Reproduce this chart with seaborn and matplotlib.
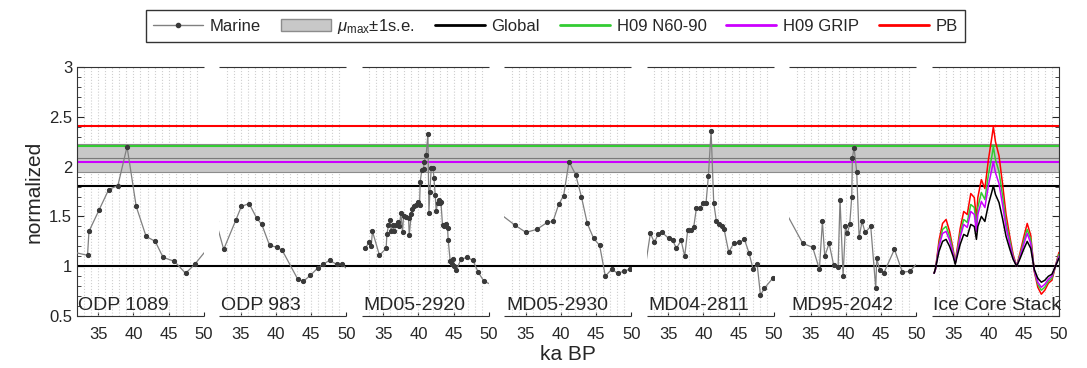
import pandas as pd
import matplotlib
matplotlib.use("Agg")
import matplotlib.pyplot as plt
from matplotlib.lines import Line2D
from matplotlib.patches import Patch, Rectangle
from matplotlib.ticker import MultipleLocator
import seaborn as sns

# panel names, left to right
panel_names = ["ODP 1089", "ODP 983", "MD05-2920", "MD05-2930",
               "MD04-2811", "MD95-2042", "Ice Core Stack"]

# marine records: age (ka BP) and normalized value
odp1089_age = [31.0, 33.5, 33.7, 35.1, 36.5, 37.8, 39.1, 40.4, 41.8, 43.1, 44.2, 45.8, 47.4, 48.7, 51.0]
odp1089_val = [1.15, 1.11, 1.35, 1.56, 1.77, 1.81, 2.20, 1.60, 1.30, 1.25, 1.09, 1.05, 0.93, 1.02, 1.22]

odp983_age = [31.5, 32.6, 34.3, 35.1, 36.2, 37.3, 38.0, 39.1, 40.2, 40.9, 43.1, 43.9, 44.9, 45.9,
              46.7, 47.6, 48.6, 49.4, 51.0]
odp983_val = [1.45, 1.17, 1.46, 1.60, 1.63, 1.48, 1.42, 1.21, 1.19, 1.16, 0.87, 0.85, 0.91, 0.98,
              1.02, 1.06, 1.02, 1.02, 0.91]

md052920_age = [32.45, 33.02, 33.30, 33.49, 34.48, 35.43, 35.53, 35.76, 36.00, 36.14, 36.33, 36.57,
                36.81, 37.09, 37.28, 37.52, 37.75, 37.89, 38.27, 38.60, 38.70, 38.98, 39.12, 39.40,
                39.69, 39.93, 40.16, 40.26, 40.49, 40.73, 40.82, 41.10, 41.35, 41.49, 41.63, 41.82,
                42.06, 42.20, 42.38, 42.52, 42.71, 42.90, 43.05, 43.19, 43.42, 43.66, 43.90, 44.13,
                44.23, 44.51, 44.70, 44.89, 45.08, 45.36, 46.03, 46.88, 47.73, 48.48, 49.29, 50.5]
md052920_val = [1.18, 1.24, 1.20, 1.35, 1.11, 1.18, 1.32, 1.41, 1.46, 1.35, 1.41, 1.35,
                1.41, 1.44, 1.40, 1.53, 1.34, 1.50, 1.49, 1.48, 1.31, 1.52, 1.57, 1.60,
                1.61, 1.65, 1.61, 1.85, 1.97, 1.98, 2.05, 2.12, 2.33, 1.53, 1.75, 1.99,
                1.99, 1.89, 1.72, 1.55, 1.64, 1.67, 1.64, 1.65, 1.41, 1.40, 1.42, 1.38,
                1.26, 1.05, 1.02, 1.07, 1.00, 0.96, 1.07, 1.09, 1.06, 0.94, 0.85, 0.81]

md052930_age = [31.5, 33.53, 35.05, 36.56, 38.07, 38.88, 39.68, 40.39, 41.15, 42.09, 42.90,
                43.74, 44.64, 45.49, 46.30, 47.19, 48.04, 48.90, 49.74]
md052930_val = [1.52, 1.41, 1.34, 1.37, 1.44, 1.45, 1.62, 1.71, 2.05, 1.92, 1.70,
                1.43, 1.28, 1.21, 0.90, 0.97, 0.93, 0.95, 0.97]

md042811_age = [31.3, 32.48, 33.05, 33.57, 34.14, 35.08, 35.65, 36.17, 36.84, 37.35, 37.77, 38.20,
                38.62, 39.00, 39.53, 39.90, 40.38, 40.71, 41.09, 41.46, 41.84, 42.27, 42.60, 42.94,
                43.59, 44.30, 45.11, 45.82, 46.48, 47.05, 47.62, 48.09, 48.65, 49.83]
md042811_val = [0.78, 1.33, 1.24, 1.32, 1.34, 1.28, 1.26, 1.18, 1.26, 1.10, 1.36, 1.36,
                1.39, 1.58, 1.58, 1.64, 1.64, 1.91, 2.36, 1.64, 1.45, 1.42, 1.40, 1.37,
                1.14, 1.23, 1.24, 1.27, 1.13, 0.97, 1.02, 0.71, 0.78, 0.88]

md952042_age = [31.5, 33.88, 35.29, 36.24, 36.67, 37.00, 37.62, 38.27, 38.89, 39.17, 39.60, 39.93,
                40.21, 40.54, 40.83, 40.92, 41.16, 41.53, 41.87, 42.29, 42.72, 43.52, 44.23, 44.37,
                44.80, 45.36, 46.88, 48.01, 49.05, 50.5]
md952042_val = [1.54, 1.23, 1.19, 0.97, 1.45, 1.10, 1.23, 1.01, 0.99, 1.67, 0.90, 1.40,
                1.33, 1.42, 1.70, 2.09, 2.19, 1.95, 1.29, 1.45, 1.34, 1.40, 0.78, 1.08,
                0.96, 0.93, 1.17, 0.94, 0.95, 1.06]

# ice core stack curves
stack_age = [32.3, 32.5, 33.0, 33.5, 34.0, 34.5, 35.0, 35.3, 35.5, 36.0, 36.5, 37.0, 37.5, 38.0,
             38.3, 38.5, 39.0, 39.5, 40.0, 40.5, 40.7, 41.0, 41.5, 42.0, 42.5, 43.0, 43.5, 44.0,
             44.5, 45.0, 45.5, 46.0, 46.5, 47.0, 47.5, 48.0, 48.5, 49.0, 49.5, 50.0]
stack_global = [0.93, 0.98, 1.15, 1.25, 1.27, 1.20, 1.10, 1.02, 1.08, 1.22, 1.32, 1.30, 1.42, 1.40,
                1.27, 1.40, 1.50, 1.45, 1.62, 1.75, 1.81, 1.72, 1.64, 1.48, 1.30, 1.18, 1.07, 1.00,
                1.08, 1.17, 1.25, 1.18, 0.97, 0.88, 0.84, 0.86, 0.90, 0.92, 1.00, 1.08]
stack_n6090 = [0.93, 0.97, 1.22, 1.37, 1.40, 1.30, 1.15, 1.03, 1.12, 1.33, 1.47, 1.44, 1.62, 1.59,
               1.40, 1.59, 1.74, 1.67, 1.92, 2.11, 2.20, 2.07, 1.95, 1.71, 1.44, 1.27, 1.10, 1.00,
               1.12, 1.25, 1.37, 1.27, 0.96, 0.82, 0.76, 0.79, 0.85, 0.88, 1.00, 1.12]
stack_grip = [0.93, 0.97, 1.20, 1.33, 1.35, 1.26, 1.13, 1.03, 1.10, 1.29, 1.42, 1.39, 1.55, 1.52,
              1.35, 1.52, 1.65, 1.59, 1.81, 1.98, 2.05, 1.94, 1.83, 1.62, 1.39, 1.23, 1.09, 1.00,
              1.10, 1.22, 1.33, 1.23, 0.96, 0.84, 0.79, 0.82, 0.87, 0.90, 1.00, 1.10]
stack_pb = [0.93, 0.97, 1.26, 1.43, 1.47, 1.35, 1.17, 1.03, 1.14, 1.38, 1.55, 1.52, 1.73, 1.69,
            1.47, 1.69, 1.87, 1.78, 2.07, 2.30, 2.40, 2.25, 2.11, 1.83, 1.52, 1.31, 1.12, 1.00,
            1.14, 1.29, 1.43, 1.31, 0.95, 0.79, 0.72, 0.76, 0.83, 0.86, 1.00, 1.14]

# reference levels
mu_max = 2.09
mu_se = 0.14
level_global = 1.81
level_n6090 = 2.205
level_grip = 2.045
level_pb = 2.405
level_base = 1.0

tick_ages = [35, 40, 45, 50]
y_ticks = [0.5, 1, 1.5, 2, 2.5, 3]
y_labels = ["0.5", "1", "1.5", "2", "2.5", "3"]

marine = [(odp1089_age, odp1089_val), (odp983_age, odp983_val), (md052920_age, md052920_val),
          (md052930_age, md052930_val), (md042811_age, md042811_val), (md952042_age, md952042_val)]

colors = {"Global": "black", "H09 N60-90": "#33cc33", "H09 GRIP": "#cc00ff", "PB": "red"}

sns.set_style("ticks")
plt.rcParams["font.family"] = ["Liberation Sans", "DejaVu Sans"]
plt.rcParams["mathtext.fontset"] = "custom"
plt.rcParams["mathtext.rm"] = "Liberation Sans"
plt.rcParams["mathtext.it"] = "Liberation Sans:italic"

age_lo, age_hi, step = 32.0, 50.0, 20.2

fig = plt.figure(figsize=(10.87, 3.68), dpi=100)
ax = fig.add_axes([0.0708, 0.141, 0.9034, 0.677])

# band and reference lines
ax.axhspan(mu_max - mu_se, mu_max + mu_se, facecolor="#c8c8c8", edgecolor="#8c8c8c", lw=0.8, zorder=1.5)
ax.axhline(mu_max, color="#7a7a7a", lw=0.8, zorder=1.6)
ax.axhline(level_base, color="black", lw=1.5, zorder=2)
ax.axhline(level_global, color="black", lw=1.5, zorder=2)
ax.axhline(level_grip, color=colors["H09 GRIP"], lw=1.5, zorder=2)
ax.axhline(level_n6090, color=colors["H09 N60-90"], lw=1.5, zorder=2)
ax.axhline(level_pb, color=colors["PB"], lw=1.5, zorder=2)

xticks, xlabels = [], []
for i, name in enumerate(panel_names):
    off = i * step
    # dotted grid every 1 ka
    ax.vlines([off + a for a in range(33, 50)], 0.5, 3.0, colors="#cfcfcf", linestyles=":", lw=0.8, zorder=1)
    # panel frame (top / bottom)
    ax.hlines([0.5, 3.0], off + age_lo, off + age_hi, colors="#333333", lw=0.8, clip_on=False, zorder=5)
    ax.text(off + age_lo + 0.2, 0.52, name, fontsize=14, va="bottom", ha="left", zorder=6)
    xticks += [off + t for t in tick_ages]
    xlabels += [str(t) for t in tick_ages]
    clip = Rectangle((off + age_lo, 0), age_hi - age_lo, 5, transform=ax.transData)

    if i < len(marine):
        ages, vals = marine[i]
        df = pd.DataFrame({"x": [off + a for a in ages], "value": vals})
        sns.lineplot(data=df, x="x", y="value", ax=ax, color="#808080", lw=0.9, marker="o",
                     markersize=3, markerfacecolor="#3a3a3a", markeredgecolor="#3a3a3a",
                     estimator=None, sort=False, zorder=3)
        ax.lines[-1].set_clip_path(clip)
    else:
        stack = pd.concat([
            pd.DataFrame({"x": [off + a for a in stack_age], "value": stack_pb, "series": "PB"}),
            pd.DataFrame({"x": [off + a for a in stack_age], "value": stack_n6090, "series": "H09 N60-90"}),
            pd.DataFrame({"x": [off + a for a in stack_age], "value": stack_grip, "series": "H09 GRIP"}),
            pd.DataFrame({"x": [off + a for a in stack_age], "value": stack_global, "series": "Global"}),
        ])
        sns.lineplot(data=stack, x="x", y="value", hue="series", palette=colors, ax=ax,
                     lw=1.1, estimator=None, sort=False, legend=False, zorder=3)
        for ln in ax.lines[-4:]:
            ln.set_clip_path(clip)

ax.set_xlim(age_lo, age_hi + 6 * step)
ax.set_ylim(0.5, 3.0)
ax.set_xticks(xticks)
ax.set_xticklabels(xlabels, fontsize=12)
ax.set_yticks(y_ticks)
ax.set_yticklabels(y_labels, fontsize=12)
ax.yaxis.set_minor_locator(MultipleLocator(0.1))
ax.tick_params(axis="x", direction="in", length=3, width=0.8, top=False, pad=8)
ax.tick_params(axis="y", which="major", direction="in", length=5, width=0.8, right=True)
ax.tick_params(axis="y", which="minor", direction="in", length=3, width=0.6, right=True)
ax.spines["top"].set_visible(False)
ax.spines["bottom"].set_visible(False)
ax.spines["left"].set_color("#333333")
ax.spines["right"].set_color("#333333")
ax.set_xlabel("ka BP", fontsize=15, labelpad=2)
ax.set_ylabel("normalized", fontsize=15)

handles = [
    Line2D([], [], color="#808080", lw=1, marker="o", markersize=3, markerfacecolor="#3a3a3a",
           markeredgecolor="#3a3a3a", label="Marine"),
    Patch(facecolor="#c8c8c8", edgecolor="#8c8c8c", label=r"$\mu_{\rm max}$±1s.e."),
    Line2D([], [], color="black", lw=2, label="Global"),
    Line2D([], [], color=colors["H09 N60-90"], lw=2, label="H09 N60-90"),
    Line2D([], [], color=colors["H09 GRIP"], lw=2, label="H09 GRIP"),
    Line2D([], [], color=colors["PB"], lw=2, label="PB"),
]
fig.legend(handles=handles, loc="center", bbox_to_anchor=(0.511, 0.929), ncol=6, frameon=True,
           fancybox=False, edgecolor="black", fontsize=12, handlelength=3, columnspacing=1.2,
           borderpad=0.4, handletextpad=0.4)

plt.savefig("out.png", dpi=100)
plt.close()
